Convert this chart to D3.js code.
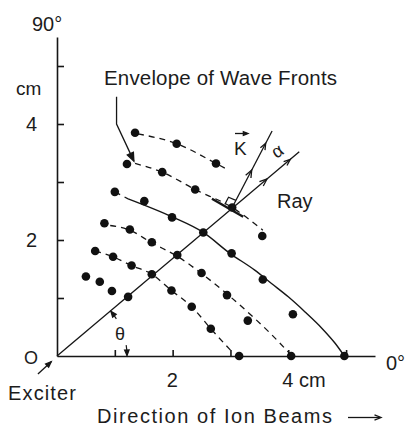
<!DOCTYPE html>
<html>
<head>
<meta charset="utf-8">
<script src="https://cdn.jsdelivr.net/npm/d3@7"></script>
<style>
  body { margin: 0; background: #fff; }
  text { font-family: "Liberation Sans", Arial, sans-serif; fill: #1c1c1c; }
</style>
</head>
<body>
<div id="chart"></div>
<script>
// ticks (cm)
var xTicks = [1, 2, 3, 4, 5];
var yTicks = [1, 2, 3, 4, 5];
var xTickLabels = [[2, "2"], [4, "4 cm"]];
var yTickLabels = [[2, "2"], [4, "4"]];

// measured points (cm), one row per wave front
var dotsA = [[1.35, 3.85], [2.07, 3.66], [2.75, 3.32]];
var dotsB = [[1.21, 3.31], [1.82, 3.17], [2.39, 2.87], [3.03, 2.56], [3.55, 2.07]];
var dotsC = [[1.00, 2.83], [1.51, 2.67], [1.99, 2.39], [2.53, 2.13], [3.02, 1.77], [3.56, 1.32], [4.08, 0.72], [4.97, 0]];
var dotsD = [[0.82, 2.29], [1.26, 2.18], [1.64, 1.96], [2.08, 1.74], [2.50, 1.43], [2.94, 1.05], [3.30, 0.61], [4.05, 0]];
var dotsE = [[0.66, 1.81], [0.97, 1.71], [1.29, 1.56], [1.64, 1.41], [1.98, 1.13], [2.33, 0.85], [2.66, 0.47], [3.15, 0]];
var dotsF = [[0.50, 1.37], [0.74, 1.28], [0.95, 1.12], [1.23, 1.02]];

// wave front curves (cm); C is the solid envelope
var frontA = [[1.40, 3.83], [2.07, 3.66], [2.75, 3.32], [2.94, 3.22]];
var frontB = [[1.35, 3.32], [1.82, 3.17], [2.39, 2.87], [3.03, 2.56], [3.56, 2.17]];
var frontCLead = [[1.00, 2.83], [1.23, 2.71]];
var frontC = [[1.23, 2.71], [1.99, 2.40], [2.53, 2.13], [2.99, 1.77], [3.42, 1.48], [3.71, 1.25], [4.00, 1.02], [4.29, 0.76], [4.58, 0.48], [4.81, 0.22], [4.97, 0]];
var frontD = [[0.92, 2.25], [1.26, 2.17], [1.64, 1.95], [2.08, 1.72], [2.49, 1.43], [2.94, 1.07], [3.34, 0.72], [3.68, 0.40], [4.00, 0.07]];
var frontE = [[0.66, 1.81], [0.97, 1.71], [1.29, 1.56], [1.64, 1.41], [1.98, 1.13], [2.33, 0.85], [2.66, 0.47], [3.03, 0.07]];

// ray, wave vector and tangent (cm)
var rayPoint = [3.03, 2.56];
var rayEnd = [4.19, 3.52];
var kEnd = [3.72, 3.88];
var tangent = [[2.68, 2.71], [3.22, 2.40]];
var envelopePointer = [[1.03, 4.47], [1.03, 4.00], [1.33, 3.36]];
var exciterPointer = [[-0.33, -0.31], [-0.10, -0.10]];

var width = 407, height = 428;

var svg = d3.select("#chart").append("svg")
  .attr("width", width)
  .attr("height", height);

var x = d3.scaleLinear().domain([0, 5.5]).range([57, 375]);
var y = d3.scaleLinear().domain([0, 5.5]).range([356, 37]);

var px = p => [x(p[0]), y(p[1])];
var line = d3.line().x(d => x(d[0])).y(d => y(d[1])).curve(d3.curveMonotoneX);
var straight = d3.line().x(d => x(d[0])).y(d => y(d[1]));

// axes
svg.append("g")
  .attr("transform", "translate(0," + y(0) + ")")
  .call(d3.axisBottom(x).tickValues(xTicks).tickSize(-6).tickSizeOuter(0).tickFormat(""))
  .call(g => g.selectAll("path,line").attr("stroke", "#161616").attr("stroke-width", 1.6));

svg.append("g")
  .attr("transform", "translate(" + x(0) + ",0)")
  .call(d3.axisLeft(y).tickValues(yTicks).tickSize(-7).tickSizeOuter(0).tickFormat(""))
  .call(g => g.selectAll("path,line").attr("stroke", "#161616").attr("stroke-width", 1.6));

svg.append("g")
  .attr("font-size", 20)
  .selectAll("text")
  .data(xTickLabels)
  .enter().append("text")
  .attr("x", d => x(d[0]) - 6)
  .attr("y", 387)
  .text(d => d[1]);

svg.append("g")
  .attr("font-size", 20)
  .selectAll("text")
  .data(yTickLabels)
  .enter().append("text")
  .attr("x", 26)
  .attr("y", d => y(d[0]) + 7)
  .text(d => d[1]);

// fronts
var dashed = [frontA, frontB, frontD, frontE];
svg.append("g")
  .attr("fill", "none")
  .attr("stroke", "#161616")
  .attr("stroke-width", 1.3)
  .attr("stroke-dasharray", "6,5")
  .selectAll("path")
  .data(dashed.concat([frontCLead]))
  .enter().append("path")
  .attr("d", line);

svg.append("path")
  .attr("d", line(frontC))
  .attr("fill", "none")
  .attr("stroke", "#161616")
  .attr("stroke-width", 1.4);

var allDots = [].concat(dotsA, dotsB, dotsC, dotsD, dotsE, dotsF);
svg.append("g")
  .selectAll("circle")
  .data(allDots)
  .enter().append("circle")
  .attr("cx", d => x(d[0]))
  .attr("cy", d => y(d[1]))
  .attr("r", 4.3)
  .attr("fill", "#111");

// arrowhead helper: tip in px, ang = direction of travel
function arrowHead(tip, ang, len, filled) {
  var a1 = ang - 0.38, a2 = ang + 0.38;
  var p1 = [tip[0] - len * Math.cos(a1), tip[1] - len * Math.sin(a1)];
  var p2 = [tip[0] - len * Math.cos(a2), tip[1] - len * Math.sin(a2)];
  svg.append("path")
    .attr("d", "M" + p1 + "L" + tip + "L" + p2 + (filled ? "Z" : ""))
    .attr("fill", filled ? "#161616" : "none")
    .attr("stroke", "#161616")
    .attr("stroke-width", 1.3);
}
function along(a, b, t) {
  return [a[0] + (b[0] - a[0]) * t, a[1] + (b[1] - a[1]) * t];
}

// ray from the exciter
var O = px([0, 0]), P = px(rayPoint), R = px(rayEnd), K = px(kEnd);
svg.append("path").attr("d", straight([[0, 0], rayEnd]))
  .attr("stroke", "#161616").attr("stroke-width", 1.3);
var rayAng = Math.atan2(R[1] - O[1], R[0] - O[0]);
arrowHead(along(O, R, 0.867), rayAng, 8, false);
arrowHead(along(O, R, 0.963), rayAng, 7, false);

// wave vector K
svg.append("path").attr("d", straight([rayPoint, kEnd]))
  .attr("stroke", "#161616").attr("stroke-width", 1.3);
var kAng = Math.atan2(K[1] - P[1], K[0] - P[0]);
arrowHead(along(P, K, 0.49), kAng, 8, false);
arrowHead(along(P, K, 0.84), kAng, 7, false);

// tangent and right angle mark
svg.append("path").attr("d", straight(tangent))
  .attr("stroke", "#161616").attr("stroke-width", 2.4);
var T = px(tangent[0]);
var ul = Math.hypot(T[0] - P[0], T[1] - P[1]);
var u = [(T[0] - P[0]) / ul, (T[1] - P[1]) / ul];
var vl = Math.hypot(K[0] - P[0], K[1] - P[1]);
var v = [(K[0] - P[0]) / vl, (K[1] - P[1]) / vl];
var s = 8;
svg.append("path")
  .attr("d", "M" + [P[0] + s * u[0], P[1] + s * u[1]] +
    "L" + [P[0] + s * u[0] + s * v[0], P[1] + s * u[1] + s * v[1]] +
    "L" + [P[0] + s * v[0], P[1] + s * v[1]])
  .attr("fill", "none").attr("stroke", "#161616").attr("stroke-width", 1.2);

// theta marks on an arc round the exciter
var r = 70;
function arcPt(deg) {
  var a = deg * Math.PI / 180;
  return [O[0] + r * Math.cos(a), O[1] - r * Math.sin(a)];
}
var thetaArc = d3.line().curve(d3.curveLinear);
svg.append("path").attr("d", thetaArc(d3.range(32, 39.6, 0.5).map(arcPt)))
  .attr("fill", "none").attr("stroke", "#161616").attr("stroke-width", 1.2);
svg.append("path").attr("d", thetaArc(d3.range(9, 0.4, -0.5).map(arcPt)))
  .attr("fill", "none").attr("stroke", "#161616").attr("stroke-width", 1.2);
var t1 = arcPt(39.6), t1b = arcPt(37);
arrowHead(t1, Math.atan2(t1[1] - t1b[1], t1[0] - t1b[0]), 6, true);
var t2 = arcPt(0.4), t2b = arcPt(3);
arrowHead(t2, Math.atan2(t2[1] - t2b[1], t2[0] - t2b[0]), 6, true);

// pointers
svg.append("path").attr("d", straight(envelopePointer))
  .attr("fill", "none").attr("stroke", "#161616").attr("stroke-width", 1.3);
var e1 = px(envelopePointer[1]), e2 = px(envelopePointer[2]);
arrowHead(e2, Math.atan2(e2[1] - e1[1], e2[0] - e1[0]), 9, true);

svg.append("path").attr("d", straight(exciterPointer))
  .attr("fill", "none").attr("stroke", "#161616").attr("stroke-width", 1.3);
var x1 = px(exciterPointer[0]), x2 = px(exciterPointer[1]);
arrowHead(x2, Math.atan2(x2[1] - x1[1], x2[0] - x1[0]), 6, true);

// direction arrow
svg.append("line").attr("x1", 348).attr("x2", 380).attr("y1", 417.5).attr("y2", 417.5)
  .attr("stroke", "#161616").attr("stroke-width", 1.3);
arrowHead([381, 417.5], 0, 7, false);

// K vector arrow
svg.append("line").attr("x1", 235).attr("x2", 247).attr("y1", 133.5).attr("y2", 133.5)
  .attr("stroke", "#161616").attr("stroke-width", 1.3);
arrowHead([248, 133.5], 0, 5, true);

// texts
var labels = svg.append("g").attr("font-size", 20);
labels.append("text").attr("x", 32).attr("y", 31).text("90°");
labels.append("text").attr("x", 16).attr("y", 95).attr("font-size", 19).text("cm");
labels.append("text").attr("x", 24).attr("y", 364).attr("font-size", 18).text("O");
labels.append("text").attr("x", 386).attr("y", 370).text("0°");
labels.append("text").attr("x", 8).attr("y", 400)
  .attr("textLength", 68).attr("lengthAdjust", "spacing").text("Exciter");
labels.append("text").attr("x", 97).attr("y", 423)
  .attr("textLength", 235).attr("lengthAdjust", "spacing").text("Direction of Ion Beams");
labels.append("text").attr("x", 104).attr("y", 85).attr("font-size", 20.5)
  .attr("textLength", 233).attr("lengthAdjust", "spacing").text("Envelope of Wave Fronts");
labels.append("text").attr("x", 277).attr("y", 207.5).text("Ray");
labels.append("text").attr("x", 234).attr("y", 155).attr("font-size", 19).text("K");
labels.append("text").attr("x", 278).attr("y", 152).attr("font-size", 18)
  .attr("text-anchor", "middle").attr("dominant-baseline", "middle")
  .attr("transform", "rotate(-35,278,152)").text("α");
labels.append("text").attr("x", 120).attr("y", 340).attr("font-size", 18)
  .attr("text-anchor", "middle").text("θ");
</script>
</body>
</html>
